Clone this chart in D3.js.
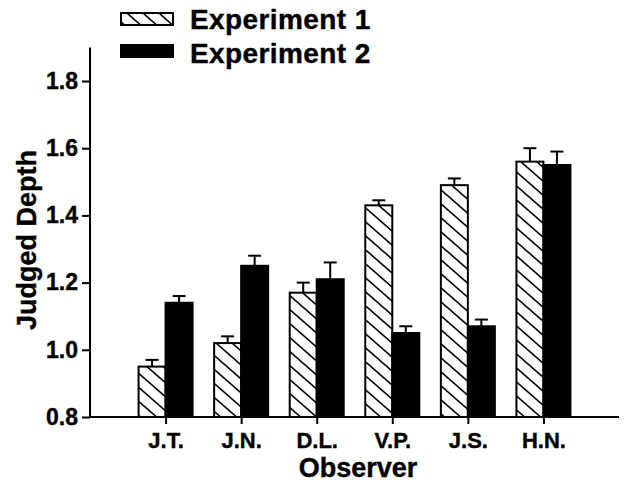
<!DOCTYPE html>
<html><head><meta charset="utf-8">
<script src="https://cdn.jsdelivr.net/npm/d3@7"></script>
<style>body{margin:0;background:#fff}svg{display:block}text{font-family:"Liberation Sans",Arial,sans-serif;font-weight:bold;fill:#000;stroke:#000;stroke-width:0.4px}</style>
</head><body>
<script>
const observers = ["J.T.", "J.N.", "D.L.", "V.P.", "J.S.", "H.N."];
const exp1 = [0.95, 1.02, 1.17, 1.43, 1.49, 1.56];
const exp1Err = [0.02, 0.02, 0.03, 0.015, 0.02, 0.04];
const exp2 = [1.14, 1.25, 1.21, 1.05, 1.07, 1.55];
const exp2Err = [0.02, 0.03, 0.05, 0.02, 0.02, 0.04];
const yTicks = [0.8, 1.0, 1.2, 1.4, 1.6, 1.8];
const seriesNames = ["Experiment 1", "Experiment 2"];

const W = 624, H = 484;
const svg = d3.select("body").append("svg").attr("width", W).attr("height", H);
const defs = svg.append("defs");
const pat = defs.append("pattern").attr("id", "hatch").attr("patternUnits", "userSpaceOnUse")
  .attr("width", 16).attr("height", 14);
pat.append("rect").attr("width", 16).attr("height", 14).attr("fill", "#fff");
pat.append("path").attr("d", "M-4,-3.5L20,17.5M-20,-3.5L4,17.5M12,-3.5L36,17.5")
  .attr("stroke", "#000").attr("stroke-width", 1.6);

const x = d3.scalePoint().domain(observers).range([90, 619]).padding(1);
const y = d3.scaleLinear().domain([0.8, 1.9]).range([417, 47.4]);
const bw = 27;

// axes
const yAxis = svg.append("g").attr("transform", "translate(90,0)")
  .call(d3.axisLeft(y).tickValues(yTicks).tickFormat(d3.format(".1f")).tickSize(8).tickPadding(4));
yAxis.select(".domain").attr("d", `M0,${y(1.9)}V${y(0.8)}`);
yAxis.selectAll("text").style("font-size", "23px").style("font-family", "Liberation Sans").style("font-weight", "bold");
const xAxis = svg.append("g").attr("transform", "translate(0,417)")
  .call(d3.axisBottom(x).tickSize(7).tickPadding(8));
xAxis.select(".domain").attr("d", "M90,0H619");
xAxis.selectAll("text").style("font-size", "22px").style("font-family", "Liberation Sans").style("font-weight", "bold");
svg.selectAll(".domain, .tick line").attr("stroke", "#000").attr("stroke-width", 2);

// bars
const data = observers.map((o, i) => ({o, v1: exp1[i], e1: exp1Err[i], v2: exp2[i], e2: exp2Err[i]}));
function errBar(cx, v, e) {
  const g = svg.append("g").attr("stroke", "#000").attr("stroke-width", 2);
  g.append("line").attr("x1", cx).attr("x2", cx).attr("y1", y(v)).attr("y2", y(v + e));
  g.append("line").attr("x1", cx - 6.5).attr("x2", cx + 6.5).attr("y1", y(v + e)).attr("y2", y(v + e));
}
data.forEach(d => {
  const c = x(d.o);
  errBar(c - bw / 2, d.v1, d.e1);
  errBar(c + bw / 2, d.v2, d.e2);
  svg.append("rect").attr("x", c - bw).attr("y", y(d.v1)).attr("width", bw).attr("height", y(0.8) - y(d.v1))
    .attr("fill", "url(#hatch)").attr("stroke", "#000").attr("stroke-width", 2);
  svg.append("rect").attr("x", c).attr("y", y(d.v2)).attr("width", bw).attr("height", y(0.8) - y(d.v2))
    .attr("fill", "#000").attr("stroke", "#000").attr("stroke-width", 2);
});
// redraw x axis line on top
svg.append("line").attr("x1", 90).attr("x2", 619).attr("y1", 417).attr("y2", 417).attr("stroke", "#000").attr("stroke-width", 2);

// axis titles
svg.append("text").attr("x", 358).attr("y", 477).attr("text-anchor", "middle").style("font-size", "27px").text("Observer");
svg.append("text").attr("transform", "translate(36,240) rotate(-90)").attr("text-anchor", "middle").style("font-size", "27px").text("Judged Depth");

// legend
const leg = [{fill: "url(#hatch)", y: 13, ty: 29}, {fill: "#000", y: 45, ty: 63}];
leg.forEach((l, i) => {
  svg.append("rect").attr("x", 121).attr("y", l.y).attr("width", 52).attr("height", 12)
    .attr("fill", l.fill).attr("stroke", "#000").attr("stroke-width", 2);
  svg.append("text").attr("x", 190).attr("y", l.ty).style("font-size", "28px").style("letter-spacing", "0.4px").text(seriesNames[i]);
});
</script>
</body></html>
